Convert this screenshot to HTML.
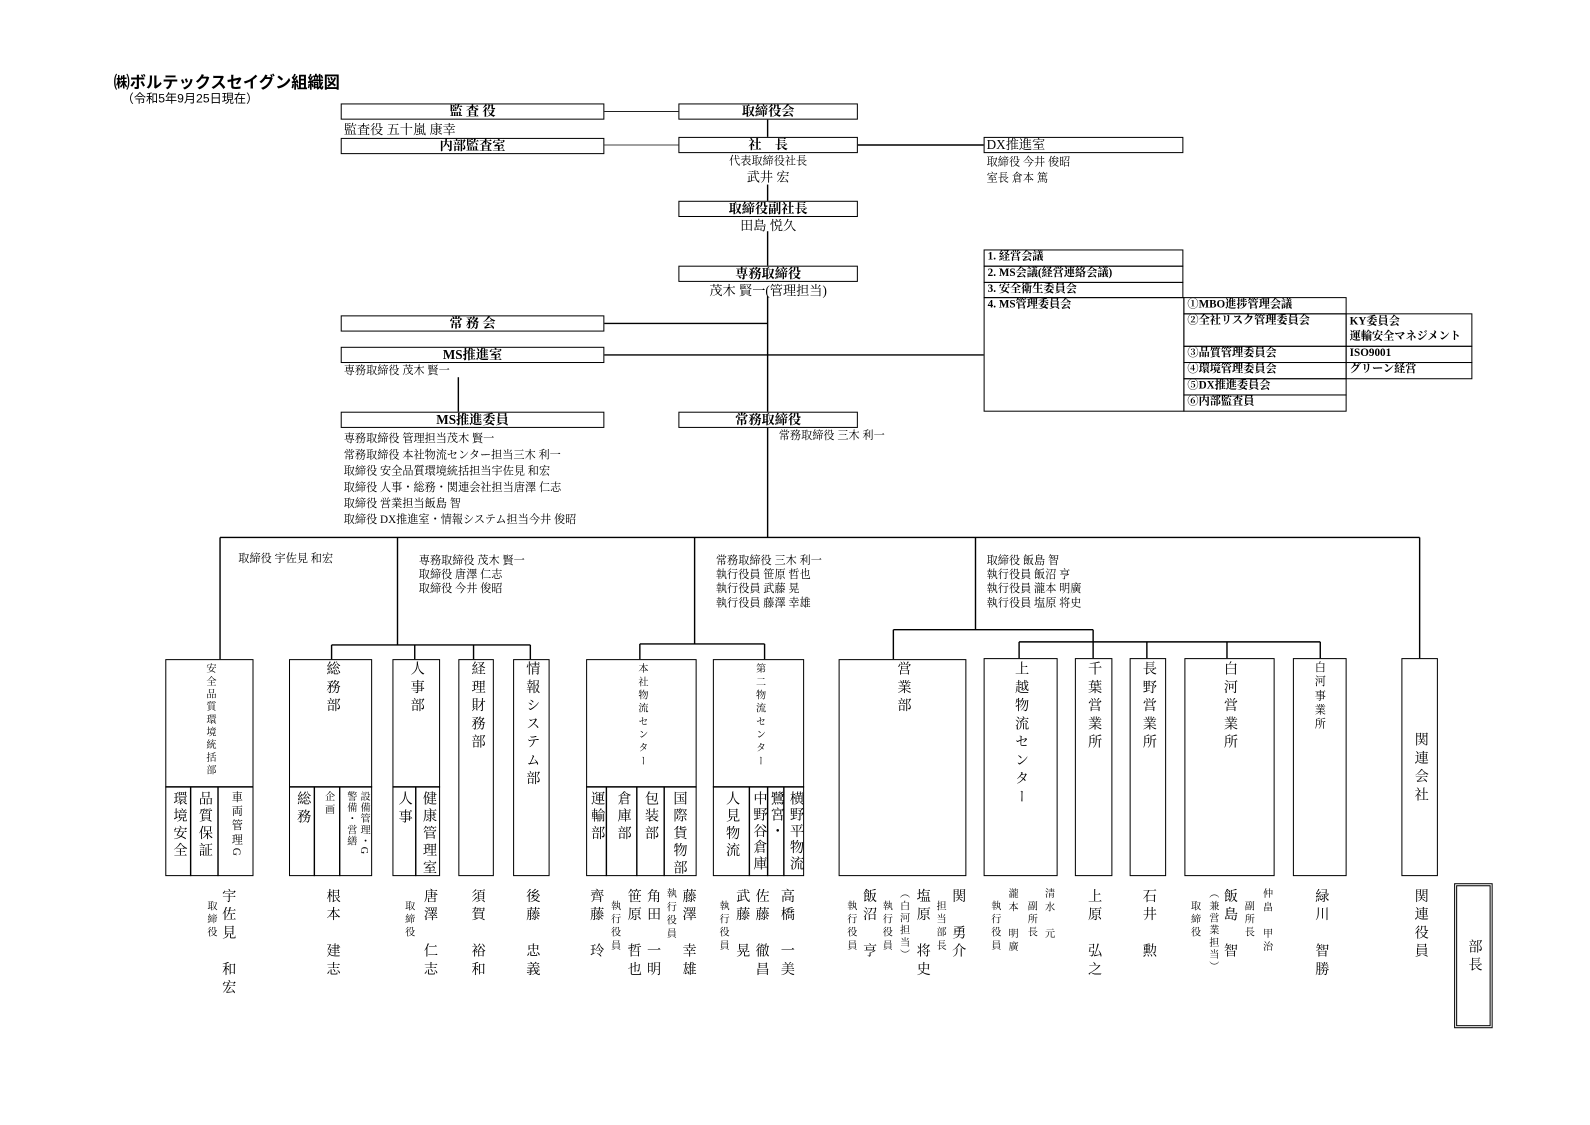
<!DOCTYPE html>
<html><head><meta charset="utf-8">
<style>
html,body{margin:0;padding:0;background:#fff;}
body{width:1590px;height:1125px;overflow:hidden;position:relative;}
#c{position:absolute;left:0;top:0;width:1568px;height:1109px;transform:scale(1.01403);transform-origin:0 0;font-family:"Liberation Serif","Noto Serif CJK SC","Noto Sans CJK JP",serif;color:#000;}
.b{position:absolute;border:1.5px solid #000;box-sizing:border-box;font-size:13px;line-height:13px;text-align:center;font-weight:bold;white-space:nowrap;}
.t{position:absolute;font-size:11px;line-height:11px;white-space:nowrap;}
.v{position:absolute;writing-mode:vertical-rl;line-height:1;white-space:nowrap;}
.L{font-size:14px;letter-spacing:4px;}
.S{font-size:10px;letter-spacing:3px;}
.vb{position:absolute;border:1.5px solid #000;box-sizing:border-box;}
.cm{position:absolute;border:1.2px solid #000;box-sizing:border-box;font-size:11px;line-height:13px;padding-left:3px;font-weight:bold;white-space:nowrap;}
svg{position:absolute;left:0;top:0;}
</style></head><body><div id="c">
<svg width="1568" height="1109" stroke="#000" stroke-width="1.4" fill="none">
<line x1="596" y1="110" x2="669" y2="110" stroke-width="0.8"/>
<line x1="596" y1="143" x2="669" y2="143" stroke-width="0.8"/>
<line x1="846" y1="143" x2="970" y2="143"/>
<line x1="757" y1="118" x2="757" y2="135"/>
<line x1="757" y1="182" x2="757" y2="198"/>
<line x1="757" y1="228" x2="757" y2="262"/>
<line x1="757" y1="292" x2="757" y2="406"/>
<line x1="757" y1="422" x2="757" y2="530"/>
<line x1="596" y1="319" x2="757" y2="319"/>
<line x1="596" y1="350" x2="970" y2="350"/>
<line x1="452" y1="372" x2="452" y2="406"/>
<line x1="217" y1="530" x2="1400" y2="530"/>
<line x1="217" y1="530" x2="217" y2="650"/>
<line x1="392" y1="530" x2="392" y2="636"/>
<line x1="685" y1="530" x2="685" y2="635"/>
<line x1="962" y1="530" x2="962" y2="621"/>
<line x1="1400" y1="530" x2="1400" y2="649"/>
<line x1="327" y1="636" x2="523" y2="636"/>
<line x1="327" y1="636" x2="327" y2="650"/>
<line x1="409" y1="636" x2="409" y2="650"/>
<line x1="467" y1="636" x2="467" y2="650"/>
<line x1="523" y1="636" x2="523" y2="650"/>
<line x1="631" y1="635" x2="754" y2="635"/>
<line x1="631" y1="635" x2="631" y2="650"/>
<line x1="754" y1="635" x2="754" y2="650"/>
<line x1="881" y1="621" x2="1078" y2="621"/>
<line x1="881" y1="621" x2="881" y2="650"/>
<line x1="1078" y1="621" x2="1078" y2="649"/>
<line x1="1005" y1="633" x2="1302" y2="633"/>
<line x1="1005" y1="633" x2="1005" y2="649"/>
<line x1="1131" y1="633" x2="1131" y2="649"/>
<line x1="1210" y1="633" x2="1210" y2="649"/>
<line x1="1302" y1="633" x2="1302" y2="649"/>
<!-- inner dividers -->
<line x1="163" y1="776" x2="250" y2="776"/><line x1="188" y1="776" x2="188" y2="864"/><line x1="215" y1="776" x2="215" y2="864"/>
<line x1="285" y1="776" x2="367" y2="776"/><line x1="310" y1="776" x2="310" y2="864"/><line x1="335" y1="776" x2="335" y2="864"/>
<line x1="387" y1="776" x2="434" y2="776"/><line x1="410" y1="776" x2="410" y2="864"/>
<line x1="578" y1="776" x2="687" y2="776"/><line x1="598" y1="776" x2="598" y2="864"/><line x1="628" y1="776" x2="628" y2="864"/><line x1="655" y1="776" x2="655" y2="864"/>
<line x1="703" y1="776" x2="793" y2="776"/><line x1="739" y1="776" x2="739" y2="864"/><line x1="757" y1="776" x2="757" y2="864"/><line x1="773" y1="776" x2="773" y2="864"/>
</svg>

<div style="position:absolute;left:112px;top:68px;font-size:16px;font-weight:bold;font-family:'Liberation Sans','Noto Sans CJK JP',sans-serif;">㈱ボルテックスセイグン組織図</div>
<div style="position:absolute;left:120px;top:88px;font-size:12px;font-family:'Liberation Sans','Noto Sans CJK JP',sans-serif;">（令和5年9月25日現在）</div>

<div class="b" style="left:336px;top:102px;width:260px;height:16px;">監 査 役</div>
<div class="t" style="left:339px;top:121px;font-size:13px;line-height:13px;">監査役 五十嵐 康幸</div>
<div class="b" style="left:336px;top:136px;width:260px;height:16px;">内部監査室</div>
<div class="b" style="left:669px;top:102px;width:177px;height:16px;">取締役会</div>
<div class="b" style="left:669px;top:135px;width:177px;height:16px;">社　長</div>
<div class="t" style="left:669px;width:177px;text-align:center;top:154px;">代表取締役社長</div>
<div class="t" style="left:669px;width:177px;text-align:center;top:168px;font-size:13px;line-height:13px;">武井 宏</div>
<div class="b" style="left:970px;top:135px;width:197px;height:16px;text-align:left;padding-left:2px;font-weight:normal;">DX推進室</div>
<div class="t" style="left:973px;top:155px;">取締役 今井 俊昭</div>
<div class="t" style="left:973px;top:171px;">室長 倉本 篤</div>
<div class="b" style="left:669px;top:198px;width:177px;height:16px;">取締役副社長</div>
<div class="t" style="left:669px;width:177px;text-align:center;top:216px;font-size:13px;line-height:13px;">田島 悦久</div>
<div class="b" style="left:669px;top:262px;width:177px;height:16px;">専務取締役</div>
<div class="t" style="left:669px;width:177px;text-align:center;top:280px;font-size:13px;line-height:13px;">茂木 賢一(管理担当)</div>
<div class="b" style="left:336px;top:311px;width:260px;height:16px;">常 務 会</div>
<div class="b" style="left:336px;top:342px;width:260px;height:16px;">MS推進室</div>
<div class="t" style="left:339px;top:361px;">専務取締役 茂木 賢一</div>
<div class="b" style="left:336px;top:406px;width:260px;height:16px;">MS推進委員</div>
<div class="b" style="left:669px;top:406px;width:177px;height:16px;">常務取締役</div>
<div class="t" style="left:768px;top:425px;">常務取締役 三木 利一</div>
<div class="t" style="left:339px;top:425px;line-height:16px;">専務取締役 管理担当茂木 賢一<br>常務取締役 本社物流センター担当三木 利一<br>取締役 安全品質環境統括担当宇佐見 和宏<br>取締役 人事・総務・関連会社担当唐澤 仁志<br>取締役 営業担当飯島 智<br>取締役 DX推進室・情報システム担当今井 俊昭</div>

<div class="cm" style="left:970px;top:246px;width:197px;height:17px;">1. 経営会議</div>
<div class="cm" style="left:970px;top:262px;width:197px;height:17px;">2. MS会議(経営連絡会議)</div>
<div class="cm" style="left:970px;top:278px;width:197px;height:16px;">3. 安全衛生委員会</div>
<div class="cm" style="left:970px;top:293px;width:198px;height:113px;">4. MS管理委員会</div>
<div class="cm" style="left:1167px;top:293px;width:161px;height:17px;">①MBO進捗管理会議</div>
<div class="cm" style="left:1167px;top:309px;width:161px;height:33px;">②全社リスク管理委員会</div>
<div class="cm" style="left:1167px;top:341px;width:161px;height:17px;">③品質管理委員会</div>
<div class="cm" style="left:1167px;top:357px;width:161px;height:17px;">④環境管理委員会</div>
<div class="cm" style="left:1167px;top:373px;width:161px;height:17px;">⑤DX推進委員会</div>
<div class="cm" style="left:1167px;top:389px;width:161px;height:17px;">⑥内部監査員</div>
<div class="cm" style="left:1327px;top:309px;width:125px;height:33px;line-height:15px;">KY委員会<br>運輸安全マネジメント</div>
<div class="cm" style="left:1327px;top:341px;width:125px;height:17px;">ISO9001</div>
<div class="cm" style="left:1327px;top:357px;width:125px;height:17px;">グリーン経営</div>

<div class="t" style="left:235px;top:546px;">取締役 宇佐見 和宏</div>
<div class="t" style="left:413px;top:546px;line-height:14px;">専務取締役 茂木 賢一<br>取締役 唐澤 仁志<br>取締役 今井 俊昭</div>
<div class="t" style="left:706px;top:546px;line-height:14px;">常務取締役 三木 利一<br>執行役員 笹原 哲也<br>執行役員 武藤 晃<br>執行役員 藤澤 幸雄</div>
<div class="t" style="left:973px;top:546px;line-height:14px;">取締役 飯島 智<br>執行役員 飯沼 亨<br>執行役員 瀧本 明廣<br>執行役員 塩原 将史</div>

<!-- boxes -->
<div class="vb" style="left:163px;top:650px;width:87px;height:214px;"></div>
<div class="vb" style="left:285px;top:650px;width:82px;height:214px;"></div>
<div class="vb" style="left:387px;top:650px;width:47px;height:214px;"></div>
<div class="vb" style="left:452px;top:650px;width:35px;height:214px;"></div>
<div class="vb" style="left:506px;top:650px;width:36px;height:214px;"></div>
<div class="vb" style="left:578px;top:650px;width:109px;height:214px;"></div>
<div class="vb" style="left:703px;top:650px;width:90px;height:214px;"></div>
<div class="vb" style="left:827px;top:650px;width:126px;height:214px;"></div>
<div class="vb" style="left:970px;top:649px;width:73px;height:215px;"></div>
<div class="vb" style="left:1060px;top:649px;width:37px;height:215px;"></div>
<div class="vb" style="left:1114px;top:649px;width:36px;height:215px;"></div>
<div class="vb" style="left:1168px;top:649px;width:89px;height:215px;"></div>
<div class="vb" style="left:1275px;top:649px;width:53px;height:215px;"></div>
<div class="vb" style="left:1382px;top:649px;width:36px;height:215px;"></div>
<div class="vb" style="left:1434px;top:871px;width:38px;height:143px;border:3px double #000;"></div>

<!-- box titles -->
<div class="v S" style="left:201px;top:654px;letter-spacing:2.5px;">安全品質環境統括部</div>
<div class="v L" style="left:320px;top:652px;">総務部</div>
<div class="v L" style="left:403px;top:652px;">人事部</div>
<div class="v L" style="left:463px;top:652px;">経理財務部</div>
<div class="v L" style="left:517px;top:652px;">情報システム部</div>
<div class="v S" style="left:627px;top:654px;">本社物流センター</div>
<div class="v S" style="left:743px;top:654px;">第二物流センター</div>
<div class="v L" style="left:883px;top:652px;">営業部</div>
<div class="v L" style="left:999px;top:652px;">上越物流センター</div>
<div class="v L" style="left:1071px;top:652px;">千葉営業所</div>
<div class="v L" style="left:1125px;top:652px;">長野営業所</div>
<div class="v L" style="left:1205px;top:652px;">白河営業所</div>
<div class="v" style="left:1295px;top:652px;font-size:11px;letter-spacing:3px;">白河事業所</div>
<div class="v L" style="left:1393px;top:722px;">関連会社</div>

<!-- sub columns -->
<div class="v L" style="left:169px;top:780px;letter-spacing:3px;">環境安全</div>
<div class="v L" style="left:194px;top:780px;letter-spacing:3px;">品質保証</div>
<div class="v" style="left:227px;top:780px;font-size:11px;letter-spacing:3px;">車両管理G</div>
<div class="v L" style="left:291px;top:780px;">総務</div>
<div class="v S" style="left:318px;top:780px;">企画</div>
<div class="v S" style="left:353px;top:780px;letter-spacing:1px;">設備管理・G</div>
<div class="v S" style="left:340px;top:780px;letter-spacing:1px;">警備・営繕</div>
<div class="v L" style="left:391px;top:780px;">人事</div>
<div class="v L" style="left:415px;top:780px;letter-spacing:3px;">健康管理室</div>
<div class="v L" style="left:581px;top:780px;letter-spacing:3px;">運輸部</div>
<div class="v L" style="left:607px;top:780px;letter-spacing:3px;">倉庫部</div>
<div class="v L" style="left:634px;top:780px;letter-spacing:3px;">包装部</div>
<div class="v L" style="left:662px;top:780px;letter-spacing:3px;">国際貨物部</div>
<div class="v L" style="left:714px;top:780px;letter-spacing:3px;">人見物流</div>
<div class="v L" style="left:741px;top:780px;letter-spacing:2px;">中野谷倉庫</div>
<div class="v L" style="left:758px;top:780px;letter-spacing:2px;">鷺宮・</div>
<div class="v L" style="left:777px;top:780px;letter-spacing:2px;">横野平物流</div>

<!-- names -->
<div class="v L" style="left:217px;top:876px;">宇佐見　和宏</div>
<div class="v S" style="left:202px;top:888px;">取締役</div>
<div class="v L" style="left:320px;top:876px;">根本　建志</div>
<div class="v L" style="left:416px;top:876px;">唐澤　仁志</div>
<div class="v S" style="left:397px;top:888px;">取締役</div>
<div class="v L" style="left:463px;top:876px;">須賀　裕和</div>
<div class="v L" style="left:517px;top:876px;">後藤　忠義</div>
<div class="v L" style="left:580px;top:876px;">齊藤　玲</div>
<div class="v S" style="left:600px;top:888px;">執行役員</div>
<div class="v L" style="left:617px;top:876px;">笹原　哲也</div>
<div class="v L" style="left:636px;top:876px;">角田　一明</div>
<div class="v S" style="left:655px;top:876px;">執行役員</div>
<div class="v L" style="left:671px;top:876px;">藤澤　幸雄</div>
<div class="v S" style="left:707px;top:888px;">執行役員</div>
<div class="v L" style="left:724px;top:876px;">武藤　晃</div>
<div class="v L" style="left:743px;top:876px;">佐藤　徹昌</div>
<div class="v L" style="left:768px;top:876px;">高橋　一美</div>
<div class="v S" style="left:833px;top:888px;">執行役員</div>
<div class="v L" style="left:849px;top:876px;">飯沼　亨</div>
<div class="v S" style="left:868px;top:888px;">執行役員</div>
<div class="v S" style="left:885px;top:876px;letter-spacing:2px;">（白河担当）</div>
<div class="v L" style="left:902px;top:876px;">塩原　将史</div>
<div class="v S" style="left:921px;top:888px;">担当部長</div>
<div class="v L" style="left:937px;top:876px;">関　勇介</div>
<div class="v S" style="left:975px;top:888px;">執行役員</div>
<div class="v S" style="left:992px;top:876px;">瀧本　明廣</div>
<div class="v S" style="left:1011px;top:888px;">副所長</div>
<div class="v S" style="left:1028px;top:876px;">清水　元</div>
<div class="v L" style="left:1071px;top:876px;">上原　弘之</div>
<div class="v L" style="left:1125px;top:876px;">石井　勲</div>
<div class="v S" style="left:1172px;top:888px;">取締役</div>
<div class="v S" style="left:1190px;top:876px;letter-spacing:2px;">（兼営業担当）</div>
<div class="v L" style="left:1205px;top:876px;">飯島　智</div>
<div class="v S" style="left:1225px;top:888px;">副所長</div>
<div class="v S" style="left:1243px;top:876px;">仲畠　甲治</div>
<div class="v L" style="left:1295px;top:876px;">緑川　智勝</div>
<div class="v L" style="left:1393px;top:876px;">関連役員</div>
<div class="v L" style="left:1446px;top:926px;">部長</div>
</div></body></html>
